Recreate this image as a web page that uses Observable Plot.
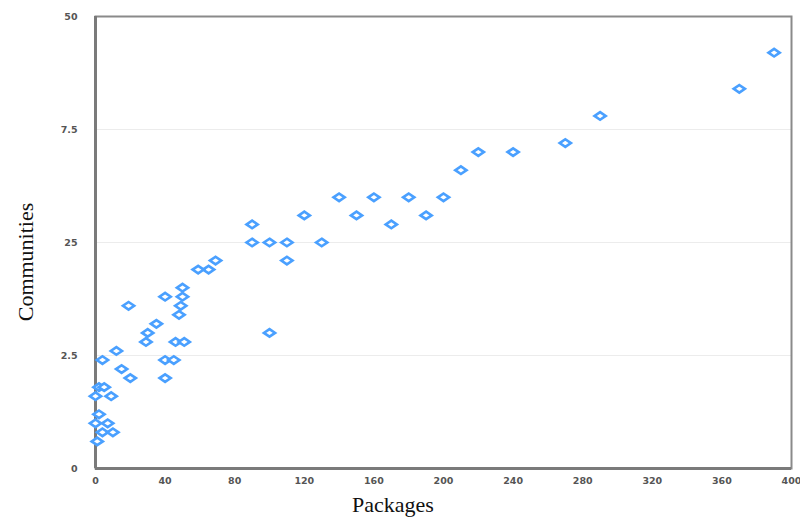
<!DOCTYPE html>
<html>
<head>
<meta charset="utf-8">
<script src="https://cdn.jsdelivr.net/npm/d3@7"></script>
<script src="https://cdn.jsdelivr.net/npm/@observablehq/plot@0.6"></script>
<style>
  html, body { margin: 0; padding: 0; background: #fff; }
  #chart { width: 800px; height: 518px; }
</style>
</head>
<body>
<div id="chart"></div>
<script>
const packages = [390, 370, 290, 270, 240, 220, 210, 200, 180, 160, 140, 190, 150, 120, 170, 90, 90, 100, 110, 130, 110, 69, 65, 59, 50, 40, 50, 19, 49, 48, 35, 30, 29, 46, 51, 100, 12, 4, 40, 45, 15, 20, 40, 2, 5, 0, 9, 2, 0, 7, 4, 10, 1];
const communities = [46, 42, 39, 36, 35, 35, 33, 30, 30, 30, 30, 28, 28, 28, 27, 27, 25, 25, 25, 25, 23, 23, 22, 22, 20, 19, 19, 18, 18, 17, 16, 15, 14, 14, 14, 15, 13, 12, 12, 12, 11, 10, 10, 9, 9, 8, 8, 6, 5, 5, 4, 4, 3];
const xTicks = [0, 40, 80, 120, 160, 200, 240, 280, 320, 360, 400];
const yTicks = [0, 12.5, 25, 37.5, 50];
const yTickLabels = ["0", "2.5", "25", "7.5", "50"];
const gridLines = [12.5, 25, 37.5];

const data = packages.map((p, i) => ({packages: p, communities: communities[i]}));

// flattened diamond symbol
const flatDiamond = {
  draw(context, size) {
    const w = 5.6, h = 3.8;
    context.moveTo(0, -h);
    context.lineTo(w, 0);
    context.lineTo(0, h);
    context.lineTo(-w, 0);
    context.closePath();
  }
};

const chart = Plot.plot({
  width: 800,
  height: 518,
  marginLeft: 95,
  marginRight: 9,
  marginTop: 16,
  marginBottom: 50,
  style: {fontFamily: "DejaVu Sans, sans-serif", background: "#fff"},
  x: {domain: [0, 400], ticks: xTicks, tickSize: 0, label: null},
  y: {domain: [0, 50], ticks: yTicks, tickSize: 0, label: null},
  marks: [
    Plot.ruleY(gridLines, {stroke: "#ececec", strokeWidth: 1}),
    Plot.frame({stroke: "#8a8a8a", strokeWidth: 2}),
    Plot.ruleX([0], {stroke: "#7a7a7a", strokeWidth: 3}),
    Plot.ruleY([0], {stroke: "#7a7a7a", strokeWidth: 3}),
    Plot.axisX({ticks: xTicks, tickSize: 0, tickPadding: 9, fontSize: 9.5, fill: "#555", fontWeight: "bold", label: null}),
    Plot.axisY({ticks: yTicks, tickSize: 0, tickPadding: 18, fontSize: 9.5, fill: "#555", fontWeight: "bold", label: null,
      tickFormat: d => yTickLabels[yTicks.indexOf(d)]}),
    Plot.dot(data, {x: "packages", y: "communities", symbol: flatDiamond, r: 4, stroke: "#4aa0ff", strokeWidth: 2.6, fill: "#fff"})
  ]
});

const svg = d3.select(chart);
svg.append("text")
  .attr("x", 393).attr("y", 512)
  .attr("text-anchor", "middle")
  .attr("font-family", "Liberation Serif, serif")
  .attr("font-size", 22)
  .attr("fill", "#111")
  .text("Packages");
svg.append("text")
  .attr("transform", "translate(33,262) rotate(-90)")
  .attr("text-anchor", "middle")
  .attr("font-family", "Liberation Serif, serif")
  .attr("font-size", 22)
  .attr("fill", "#111")
  .text("Communities");

document.getElementById("chart").appendChild(chart);
</script>
</body>
</html>
